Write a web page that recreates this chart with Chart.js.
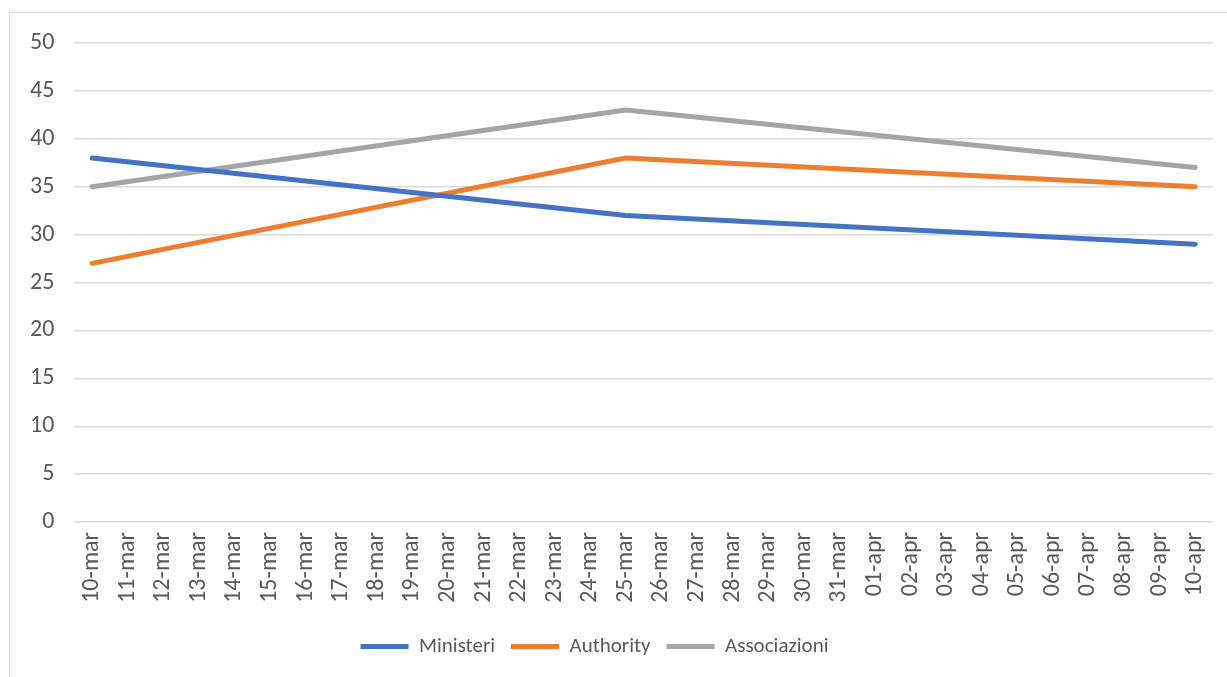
<!DOCTYPE html>
<html>
<head>
<meta charset="utf-8">
<script src="https://cdn.jsdelivr.net/npm/chart.js@4.4.0/dist/chart.umd.min.js"></script>
<style>
  html, body { margin: 0; padding: 0; background: #fff; overflow: hidden; }
  #box {
    position: absolute; left: 9px; top: 12px;
    width: 1230px; height: 680px;
    border: 1px solid #d9d9d9;
  }
  canvas { display: block; }
</style>
</head>
<body>
<div id="box"><canvas id="chart" width="1217" height="668"></canvas></div>
<script>
// asse delle date (categorie)
const dates = [
  '10-mar', '11-mar', '12-mar', '13-mar', '14-mar', '15-mar', '16-mar', '17-mar',
  '18-mar', '19-mar', '20-mar', '21-mar', '22-mar', '23-mar', '24-mar', '25-mar',
  '26-mar', '27-mar', '28-mar', '29-mar', '30-mar', '31-mar', '01-apr', '02-apr',
  '03-apr', '04-apr', '05-apr', '06-apr', '07-apr', '08-apr', '09-apr', '10-apr'
];
// giorni con rilevazione
const pointDates = ['10-mar', '25-mar', '10-apr'];
const ministeri = [38, 32, 29];
const authority = [27, 38, 35];
const associazioni = [35, 43, 37];
const yTicks = [0, 5, 10, 15, 20, 25, 30, 35, 40, 45, 50];

const FONT = 'Carlito, Lato, "Open Sans", sans-serif';
const TXT = '#595959';

const toPoints = (vals) => pointDates.map((d, i) => ({ x: d, y: vals[i] }));

const mkSet = (label, vals, color) => ({
  label: label,
  data: toPoints(vals),
  borderColor: color,
  backgroundColor: color,
  borderWidth: 5,
  borderCapStyle: 'round',
  borderJoinStyle: 'round',
  pointRadius: 0,
  pointHoverRadius: 0,
  tension: 0,
});

// sposta la legenda un po' a sinistra, come nell'originale
const shiftLegend = {
  id: 'shiftLegend',
  afterLayout(chart) {
    chart.legend.left -= 17;
    chart.legend.right -= 17;
  },
};

new Chart(document.getElementById('chart'), {
  type: 'line',
  data: {
    labels: dates,
    datasets: [
      mkSet('Ministeri', ministeri, '#4472c4'),
      mkSet('Authority', authority, '#ed7d31'),
      mkSet('Associazioni', associazioni, '#a5a5a5'),
    ],
  },
  plugins: [shiftLegend],
  options: {
    responsive: false,
    animation: false,
    layout: { padding: { left: 0, right: 14, top: 30, bottom: 14 } },
    plugins: {
      tooltip: { enabled: false },
      legend: {
        position: 'bottom',
        title: { display: true, text: '', font: { size: 1 }, padding: { top: 3, bottom: 3 } },
        labels: {
          color: TXT,
          font: { family: FONT, size: 21 },
          boxWidth: 48,
          boxHeight: 5,
          padding: 16,
          useBorderRadius: true,
          borderRadius: 2.5,
          generateLabels: (chart) => chart.data.datasets.map((ds, i) => ({
            text: ds.label,
            fillStyle: ds.borderColor,
            strokeStyle: ds.borderColor,
            lineWidth: 0,
            fontColor: TXT,
            hidden: false,
            datasetIndex: i,
          })),
        },
      },
    },
    scales: {
      x: {
        type: 'category',
        offset: true,
        afterFit: (axis) => { axis.paddingLeft = 0; axis.paddingRight = 0; },
        grid: { display: false, drawTicks: false },
        border: { display: false },
        ticks: {
          color: TXT,
          font: { family: FONT, size: 24 },
          minRotation: 90,
          maxRotation: 90,
          autoSkip: false,
          padding: 10,
        },
      },
      y: {
        min: 0,
        max: 50,
        afterBuildTicks: (axis) => { axis.ticks = yTicks.map(v => ({ value: v })); },
        afterFit: (axis) => { axis.paddingTop = 0; axis.paddingBottom = 0; },
        grid: { color: '#d9d9d9', lineWidth: 1.5, drawTicks: false },
        border: { display: false },
        ticks: {
          color: TXT,
          font: { family: FONT, size: 24 },
          padding: 20,
        },
      },
    },
  },
});
</script>
</body>
</html>
